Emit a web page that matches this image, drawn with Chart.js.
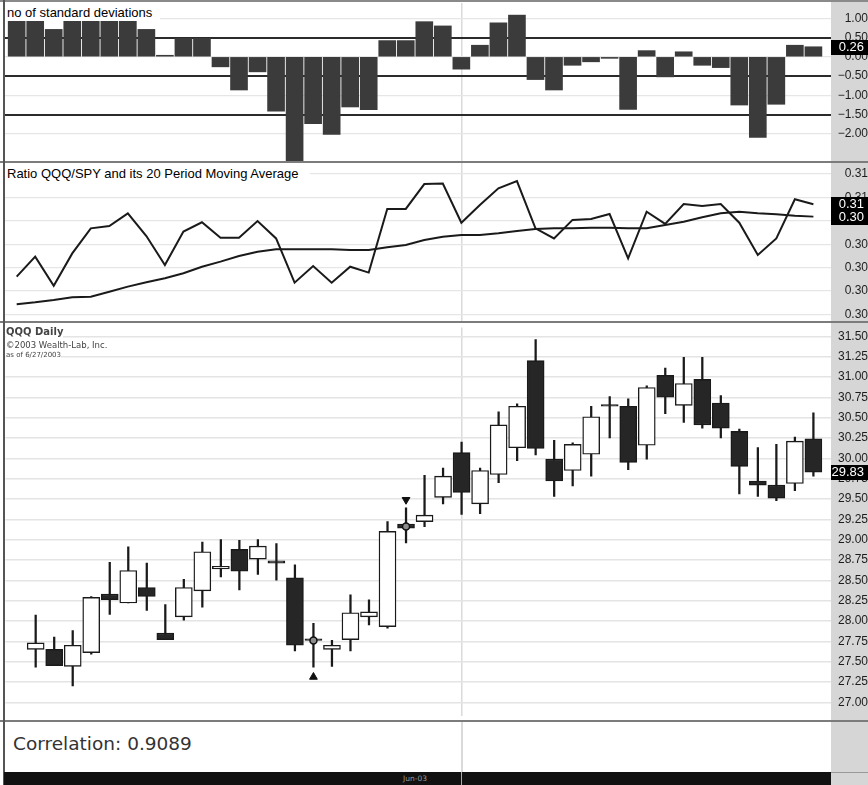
<!DOCTYPE html>
<html>
<head>
<meta charset="utf-8">
<title>QQQ vs SPY</title>
<script src="https://cdn.jsdelivr.net/npm/chart.js@4.4.0/dist/chart.umd.min.js"></script>
<style>
  html, body { margin: 0; padding: 0; background: #fff; }
  #page { position: relative; width: 868px; height: 785px; overflow: hidden; background: #fff; }
  #page canvas { position: absolute; left: 0; z-index: 1; }
  .ov { position: absolute; z-index: 2; }
  .hl { position: absolute; z-index: 2; left: 0; width: 868px; height: 2px; background: #7c7c7c; }
  .tag { position: absolute; z-index: 2; background: #fff; white-space: nowrap;
         font-family: "Liberation Sans", Arial, sans-serif; font-size: 13px; color: #000; }
  .wl { position: absolute; z-index: 2; background: #fff; white-space: nowrap;
        font-family: "DejaVu Sans", Verdana, sans-serif; color: #444; }
</style>
</head>
<body>
<div id="page">
  <div class="ov" style="left:831px;top:0;width:37px;height:772px;background:#d6d6d6;z-index:0"></div>
  <canvas id="c1" width="868" height="163" style="top:0"></canvas>
  <canvas id="c2" width="868" height="159" style="top:163px"></canvas>
  <canvas id="c3" width="868" height="399" style="top:322px"></canvas>

  <!-- frame -->
  <div class="hl" style="top:0;background:#8a8a8a"></div>
  <div class="hl" style="top:161px"></div>
  <div class="hl" style="top:321px"></div>
  <div class="hl" style="top:720px"></div>
  <div class="ov" style="left:3px;top:0;width:2px;height:785px;background:#555"></div>

  <!-- pane titles -->
  <div class="tag" style="left:5px;top:2px;width:155px;height:19px">
    <span style="position:absolute;left:2px;top:3px;line-height:15px">no of standard deviations</span>
  </div>
  <div class="tag" style="left:5px;top:163px;width:305px;height:19px">
    <span style="position:absolute;left:2px;top:3px;line-height:15px">Ratio QQQ/SPY and its 20 Period Moving Average</span>
  </div>
  <div class="wl" style="left:6px;top:326px;font-size:10px;font-weight:bold;line-height:12px">QQQ Daily</div>
  <div class="wl" style="left:6px;top:340px;font-size:8.5px;line-height:11px">&copy;2003 Wealth-Lab, Inc.</div>
  <div class="wl" style="left:6px;top:351px;font-size:7px;line-height:9px">as of 6/27/2003</div>

  <!-- correlation pane -->
  <div class="ov" style="left:461px;top:722px;width:1.5px;height:50px;background:#dadada"></div>
  <div class="ov" id="corr" style="left:13px;top:733px;font-family:'DejaVu Sans',Verdana,sans-serif;font-size:18.5px;line-height:22px;color:#333"></div>

  <!-- date strip -->
  <div class="ov" style="left:4px;top:772px;width:827px;height:13px;background:#111"></div>
  <div class="ov" style="left:461px;top:772px;width:1px;height:13px;background:#aaa"></div>
  <div class="ov" id="month" style="left:403px;top:774px;font-family:'DejaVu Sans',Verdana,sans-serif;font-size:7.5px;line-height:9px;color:#9a9a9a"></div>
  <div class="ov" style="left:831px;top:772px;width:37px;height:12px;background:#d6d6d6;border-top:1px solid #999"></div>
</div>

<script>
// ---- data ----
const monthStart = 24;           // first June bar
const monthLabel = 'Jun-03';
const correlation = 0.9089;

// pane 1: number of standard deviations
const stdDev = [1.05, 1.00, 0.71, 1.10, 1.50, 1.05, 1.00, 0.71, 0.04, 0.48, 0.48, -0.26, -0.86, -0.39,
  -1.41, -2.80, -1.73, -2.01, -1.30, -1.37, 0.42, 0.42, 0.91, 0.80, -0.32, 0.30, 0.88, 1.08, -0.59,
  -0.86, -0.22, -0.13, -0.04, -1.36, 0.16, -0.52, 0.13, -0.22, -0.28, -1.25, -2.09, -1.23, 0.30, 0.26];
const stdTicks = [-2, -1.5, -1, -0.5, 0, 0.5, 1];
const stdLevels = [0.5, -0.5, -1.5];

// pane 2: QQQ/SPY ratio and its 20 period moving average
const ratio = [0.30212, 0.30297, 0.30173, 0.30311, 0.30418, 0.30428, 0.30482, 0.30385, 0.30261, 0.30404,
  0.30444, 0.30378, 0.30378, 0.30449, 0.30375, 0.30186, 0.30257, 0.30186, 0.30254, 0.30229, 0.30501,
  0.30501, 0.30607, 0.30609, 0.30442, 0.30518, 0.30589, 0.30620, 0.30418, 0.30375, 0.30454, 0.30458,
  0.30479, 0.30290, 0.30489, 0.30437, 0.30522, 0.30513, 0.30522, 0.30442, 0.30304, 0.30375, 0.30542, 0.30521];
const ratioMA = [0.30094, 0.30102, 0.30112, 0.30124, 0.30126, 0.30147, 0.30169, 0.30188, 0.30205, 0.30226,
  0.30254, 0.30276, 0.30300, 0.30318, 0.30329, 0.30329, 0.30329, 0.30329, 0.30326, 0.30326, 0.30337,
  0.30347, 0.30368, 0.30382, 0.30390, 0.30390, 0.30397, 0.30407, 0.30415, 0.30418, 0.30418, 0.30421,
  0.30421, 0.30418, 0.30418, 0.30432, 0.30446, 0.30465, 0.30482, 0.30489, 0.30482, 0.30478, 0.30472, 0.30468];
const ratioTicks = [0.3005, 0.3015, 0.3025, 0.3035, 0.3045, 0.3055, 0.3065];

// pane 3: QQQ daily candles
const open  = [null, 27.65, 27.65, 27.44, 27.61, 28.33, 28.22, 28.41, 27.85, 28.05, 28.37, 28.64, 28.88, 28.76,
  28.74, 28.53, 27.78, 27.65, 27.77, 28.05, 27.93, 29.19, 29.22, 29.52, 30.07, 29.44, 29.80, 30.13, 31.20,
  29.99, 29.85, 30.05, 30.66, 30.64, 30.16, 31.02, 30.65, 30.97, 30.68, 30.33, 29.72, 29.67, 29.69, 30.24];
const high  = [null, 28.07, 27.80, 27.88, 28.30, 28.72, 28.91, 28.71, 28.20, 28.51, 28.97, 29.00, 28.99, 29.00,
  28.95, 28.69, 27.97, 27.76, 28.32, 28.26, 29.22, 29.39, 29.79, 29.88, 30.20, 29.88, 30.57, 30.67, 31.46,
  30.22, 30.19, 30.64, 30.76, 30.73, 30.89, 31.11, 31.24, 31.24, 30.77, 30.36, 30.13, 30.17, 30.26, 30.56];
const low   = [null, 27.43, 27.45, 27.20, 27.59, 28.08, 28.22, 28.13, 27.77, 28.01, 28.17, 28.54, 28.38, 28.57,
  28.50, 27.63, 27.43, 27.44, 27.63, 27.95, 27.91, 28.96, 29.16, 29.44, 29.31, 29.32, 29.70, 29.97, 30.04,
  29.53, 29.66, 29.78, 30.25, 29.86, 29.99, 30.55, 30.44, 30.37, 30.25, 29.56, 29.53, 29.48, 29.60, 29.78];
const close = [null, 27.73, 27.45, 27.70, 28.29, 28.26, 28.62, 28.30, 27.77, 28.41, 28.85, 28.67, 28.61, 28.92,
  28.71, 27.70, 27.76, 27.70, 28.10, 28.11, 29.10, 29.14, 29.30, 29.78, 29.58, 29.85, 30.41, 30.64, 30.12,
  29.72, 30.17, 30.51, 30.64, 29.95, 30.87, 30.75, 30.92, 30.41, 30.37, 29.90, 29.67, 29.51, 30.21, 29.83];
const priceTicks = [27, 27.25, 27.5, 27.75, 28, 28.25, 28.5, 28.75, 29, 29.25, 29.5, 29.75, 30, 30.25,
  30.5, 30.75, 31, 31.25, 31.5];

// trade markers
const tradeIdx = [16, 21];
const tradePrice = [27.76, 29.16];
const buyIdx = [16];
const buyPrice = [27.31];
const sellIdx = [21];
const sellPrice = [29.49];

// ---- chart helpers ----
const FONT = '"Liberation Sans", Arial, Helvetica, sans-serif';

function xAxis() {
  return {
    type: 'linear', min: -0.63, max: 43.95, offset: false,
    afterBuildTicks: a => { a.ticks = [{ value: monthStart }]; },
    afterFit: a => { a.height = 0; a.paddingLeft = 0; a.paddingRight = 0; },
    ticks: { display: false },
    grid: { color: '#dadada', lineWidth: 1.5, drawTicks: false, offset: false },
    border: { display: false }
  };
}

function yAxis(min, max, tickVals, fmt, pad, color, width) {
  return {
    position: 'right', min: min, max: max,
    afterBuildTicks: a => { a.ticks = tickVals.map(v => ({ value: v })); },
    afterFit: a => { a.width = 37; a.paddingTop = 0; a.paddingBottom = 0; },
    ticks: { callback: v => fmt(v), color: '#1c1c1c', font: { family: FONT, size: 12 },
             padding: pad, crossAlign: 'far', autoSkip: false },
    grid: { color: color, lineWidth: width, drawTicks: false },
    border: { display: false }
  };
}

function options(padTop, padBottom, y) {
  return {
    responsive: false, animation: false, events: [],
    layout: { padding: { left: 5, right: 0, top: padTop, bottom: padBottom } },
    plugins: { legend: { display: false }, tooltip: { enabled: false } },
    scales: { x: xAxis(), y: y }
  };
}

// black last-value box on the price axis
function valueBoxes(items) {
  return {
    id: 'valueBoxes',
    afterDraw(chart) {
      const ctx = chart.ctx, y = chart.scales.y;
      ctx.save();
      ctx.font = '13px ' + FONT;
      ctx.textAlign = 'right';
      ctx.textBaseline = 'middle';
      items.forEach(it => {
        const py = Math.round(y.getPixelForValue(it.value));
        ctx.fillStyle = '#000';
        ctx.fillRect(y.left, py - 7, chart.width - y.left, 15);
        ctx.fillStyle = '#fff';
        ctx.fillText(it.text, chart.width - 4, py + 0.5);
      });
      ctx.restore();
    }
  };
}

const last = stdDev.length - 1;

// pane 1
new Chart(document.getElementById('c1'), {
  type: 'bar',
  data: {
    datasets: [{
      data: stdDev.map((v, i) => ({ x: i, y: v })),
      backgroundColor: '#3b3b3b', barThickness: 17, grouped: false
    }]
  },
  options: options(3, 2, yAxis(-2.6995, 1.3938, stdTicks,
    v => v.toFixed(2).replace('-', '\u2212'), 1,
    c => stdLevels.includes(c.tick.value) ? '#2b2b2b' : '#e6e6e6',
    c => stdLevels.includes(c.tick.value) ? 2 : 1.2)),
  plugins: [valueBoxes([{ value: stdDev[last], text: stdDev[last].toFixed(2) }])]
});

// pane 2
new Chart(document.getElementById('c2'), {
  type: 'line',
  data: {
    datasets: [
      { data: ratio.map((v, i) => ({ x: i, y: v })), borderColor: '#1a1a1a', borderWidth: 2, pointRadius: 0, tension: 0 },
      { data: ratioMA.map((v, i) => ({ x: i, y: v })), borderColor: '#1a1a1a', borderWidth: 2, pointRadius: 0, tension: 0 }
    ]
  },
  options: options(0, 1, yAxis(0.3002233, 0.3069697, ratioTicks, v => v.toFixed(2), 8, '#e6e6e6', 1.2)),
  plugins: [valueBoxes([
    { value: ratio[last], text: ratio[last].toFixed(2) },
    { value: ratioMA[last], text: ratioMA[last].toFixed(2) }
  ])]
});

// pane 3
const candleIdx = close.map((v, i) => i).filter(i => close[i] !== null);
const bodyColors = candleIdx.map(i => close[i] >= open[i] ? '#ffffff' : '#262626');

new Chart(document.getElementById('c3'), {
  type: 'bar',
  data: {
    datasets: [
      { // wicks
        data: candleIdx.map(i => ({ x: i, y: [low[i], high[i]] })),
        backgroundColor: '#1a1a1a', barThickness: 1.6, grouped: false, order: 3
      },
      { // bodies
        data: candleIdx.map(i => ({ x: i, y: [open[i], close[i]] })),
        backgroundColor: bodyColors, borderColor: '#1a1a1a', borderWidth: 1.4,
        borderSkipped: false, barThickness: 17, grouped: false, order: 2
      },
      {
        type: 'line', showLine: false, order: 1,
        data: tradeIdx.map((i, k) => ({ x: i, y: tradePrice[k] })),
        pointStyle: 'circle', pointRadius: 3.5, pointBackgroundColor: '#8c8c8c',
        pointBorderColor: '#111', pointBorderWidth: 1.5
      },
      {
        type: 'line', showLine: false, order: 1,
        data: buyIdx.map((i, k) => ({ x: i, y: buyPrice[k] })),
        pointStyle: 'triangle', pointRadius: 4.5, pointBackgroundColor: '#111', pointBorderColor: '#111'
      },
      {
        type: 'line', showLine: false, order: 1,
        data: sellIdx.map((i, k) => ({ x: i, y: sellPrice[k] })),
        pointStyle: 'triangle', pointRotation: 180, pointRadius: 4.5,
        pointBackgroundColor: '#111', pointBorderColor: '#111'
      }
    ]
  },
  options: options(1, 1, yAxis(26.8365, 31.6082, priceTicks, v => v.toFixed(2), 1, '#e4e4e4', 1.4)),
  plugins: [valueBoxes([{ value: close[last], text: close[last].toFixed(2) }])]
});

document.getElementById('corr').textContent = 'Correlation: ' + correlation.toFixed(4);
document.getElementById('month').textContent = monthLabel;
</script>
</body>
</html>
